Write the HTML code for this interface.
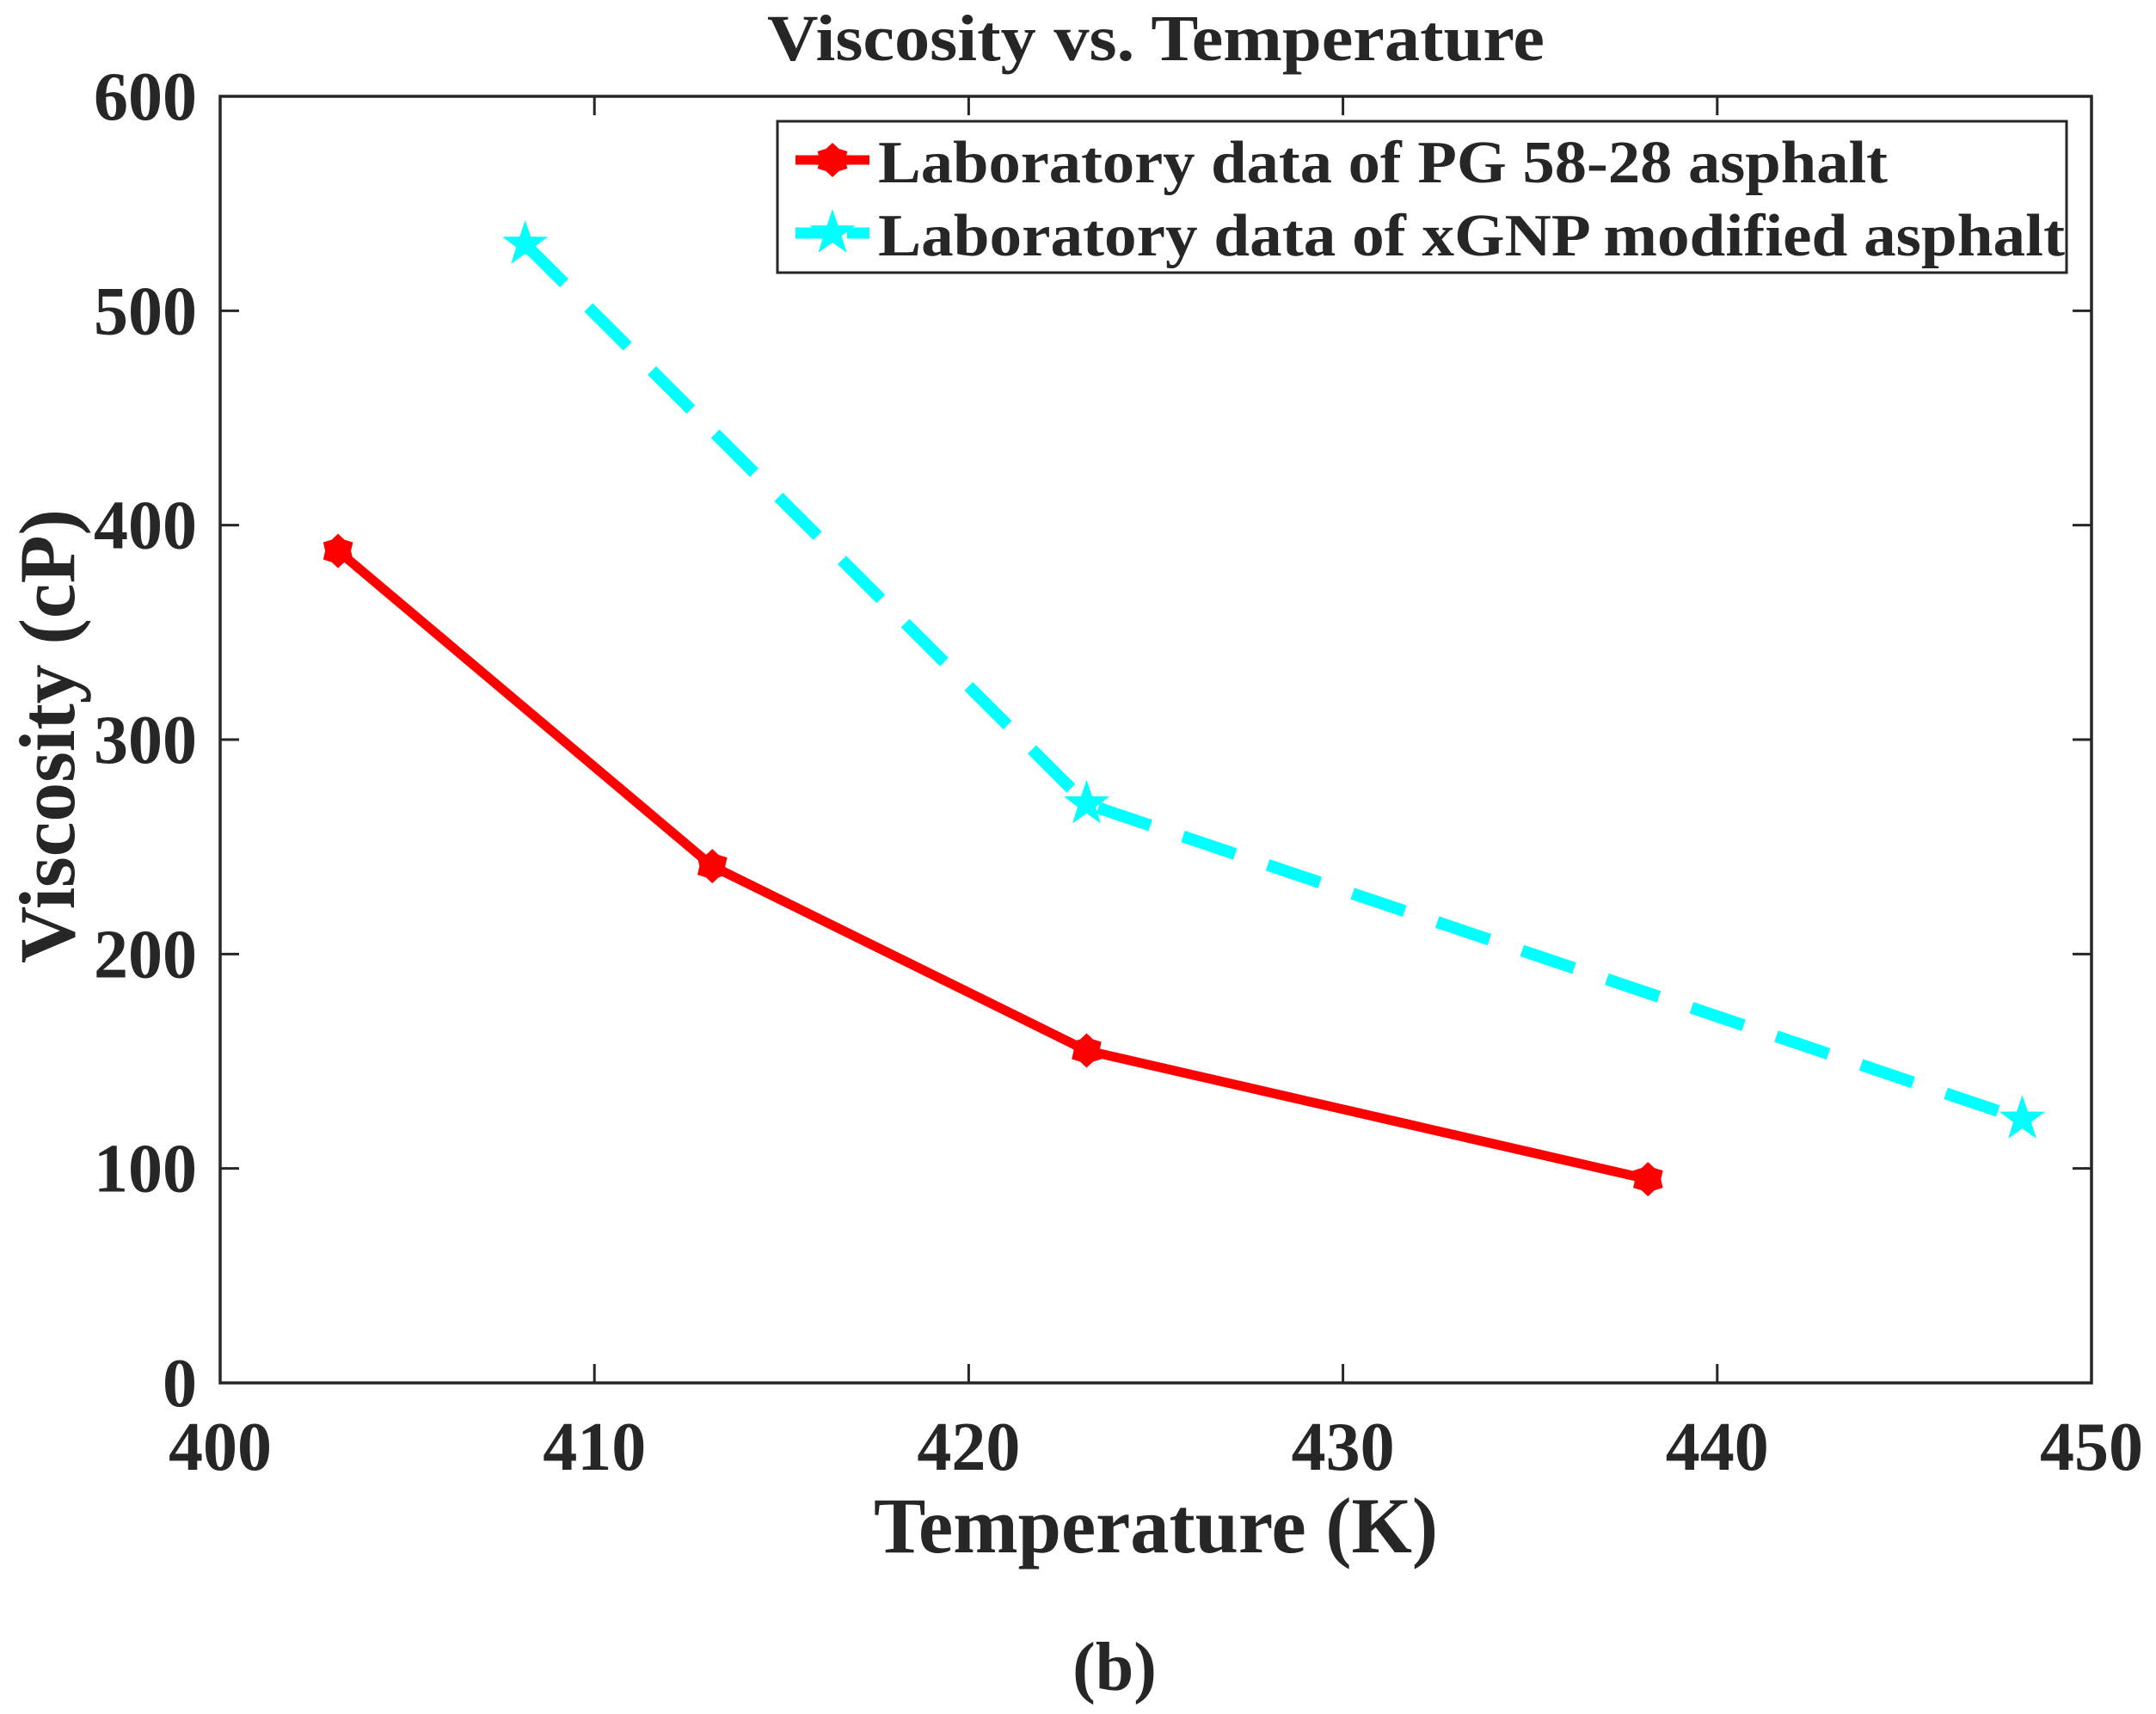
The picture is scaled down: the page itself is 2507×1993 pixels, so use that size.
<!DOCTYPE html>
<html><head><meta charset="utf-8"><style>html,body{margin:0;padding:0;background:#fff}svg{display:block}</style></head>
<body>
<svg id="chart" width="2507" height="1993" viewBox="0 0 2507 1993" xmlns="http://www.w3.org/2000/svg" font-family="'Liberation Serif', serif" font-weight="bold" fill="#262626">
<rect width="2507" height="1993" fill="#fff"/>
<text x="1344" y="70" font-size="76" text-anchor="middle" textLength="904" lengthAdjust="spacingAndGlyphs">Viscosity vs. Temperature</text>
<g id="grid"></g>
<g id="series"></g>
<text x="1344" y="1805" font-size="92" text-anchor="middle" textLength="656" lengthAdjust="spacingAndGlyphs">Temperature (K)</text>
<text transform="translate(86,856) rotate(-90)" font-size="92" text-anchor="middle" textLength="528" lengthAdjust="spacingAndGlyphs">Viscosity (cP)</text>
<text x="1296" y="1965" font-size="80" text-anchor="middle">(b)</text>
<g>
<rect x="904" y="141" width="1499" height="176" fill="#fff" stroke="#262626" stroke-width="3"/>
<g>
<line x1="925" y1="186" x2="1011" y2="186" stroke="#ff0000" stroke-width="11"/>
<polygon id="lgm1" fill="#ff0000"/>
<text x="1021" y="212" font-size="70" textLength="1174" lengthAdjust="spacingAndGlyphs">Laboratory data of PG 58-28 asphalt</text>
</g>
<g>
<line x1="925" y1="271" x2="1011" y2="271" stroke="#00ffff" stroke-width="13" stroke-dasharray="40,20"/>
<polygon id="lgm2" fill="#00ffff"/>
<text x="1021" y="297" font-size="70" textLength="1380" lengthAdjust="spacingAndGlyphs">Laboratory data of xGNP modified asphalt</text>
</g>
</g>
</svg>
<script>
const xTicks = [400, 410, 420, 430, 440, 450];
const yTicks = [0, 100, 200, 300, 400, 500, 600];
const pgTemps = [403.15, 413.15, 423.15, 438.15];
const pgVisc = [388, 241, 155, 95];
const xgTemps = [408.15, 423.15, 448.15];
const xgVisc = [531, 270, 123];

const L = 256, R = 2432, T = 112, B = 1608;
const NS = 'http://www.w3.org/2000/svg';
function xs(v){ return L + (v - 400) / 50 * (R - L); }
function ys(v){ return B - v / 600 * (B - T); }
function mk(tag, attrs, parent){ const e = document.createElementNS(NS, tag); for (const k in attrs) e.setAttribute(k, attrs[k]); parent.appendChild(e); return e; }
function starPts(cx, cy, ro, ri, n, rot){ const p=[]; for(let i=0;i<2*n;i++){ const r=i%2?ri:ro; const a=rot+i*Math.PI/n; p.push((cx+r*Math.sin(a)).toFixed(1)+','+(cy-r*Math.cos(a)).toFixed(1)); } return p.join(' '); }

const grid = document.getElementById('grid');
const series = document.getElementById('series');
const axes = mk('rect', {x:L, y:T, width:R-L, height:B-T, fill:'none', stroke:'#262626', 'stroke-width':3.5}, grid);



xTicks.forEach(v => {
  const x = xs(v);
  mk('line', {x1:x, y1:B, x2:x, y2:B-22, stroke:'#262626', 'stroke-width':3}, grid);
  mk('line', {x1:x, y1:T, x2:x, y2:T+22, stroke:'#262626', 'stroke-width':3}, grid);
  const t = mk('text', {x:x, y:1709, 'font-size':80, 'text-anchor':'middle'}, grid);
  t.textContent = v;
  
  
});
yTicks.forEach(v => {
  const y = ys(v);
  mk('line', {x1:L, y1:y, x2:L+22, y2:y, stroke:'#262626', 'stroke-width':3}, grid);
  mk('line', {x1:R, y1:y, x2:R-22, y2:y, stroke:'#262626', 'stroke-width':3}, grid);
  const t = mk('text', {x:229, y:y+27, 'font-size':80, 'text-anchor':'end'}, grid);
  t.textContent = v;
  
  
});

const pgLine = mk('polyline', {points: pgTemps.map((t,i)=>xs(t)+','+ys(pgVisc[i])).join(' '), fill:'none', stroke:'#ff0000', 'stroke-width':11, 'stroke-linejoin':'round'}, series);


pgTemps.forEach((t,i) => {
  const m = mk('polygon', {points: starPts(xs(t), ys(pgVisc[i]), 20, 15, 6, 0), fill:'#ff0000'}, series);
  
  
});

const xgLine = mk('polyline', {points: xgTemps.map((t,i)=>xs(t)+','+ys(xgVisc[i])).join(' '), fill:'none', stroke:'#00ffff', 'stroke-width':14, 'stroke-dasharray':'64,40'}, series);


xgTemps.forEach((t,i) => {
  const m = mk('polygon', {points: starPts(xs(t), ys(xgVisc[i]), 28, 11, 5, 0), fill:'#00ffff'}, series);
  
  
});

document.getElementById('lgm1').setAttribute('points', starPts(968, 186, 20, 15, 6, 0));
document.getElementById('lgm2').setAttribute('points', starPts(968, 271, 28, 11, 5, 0));
</script>
</body></html>
